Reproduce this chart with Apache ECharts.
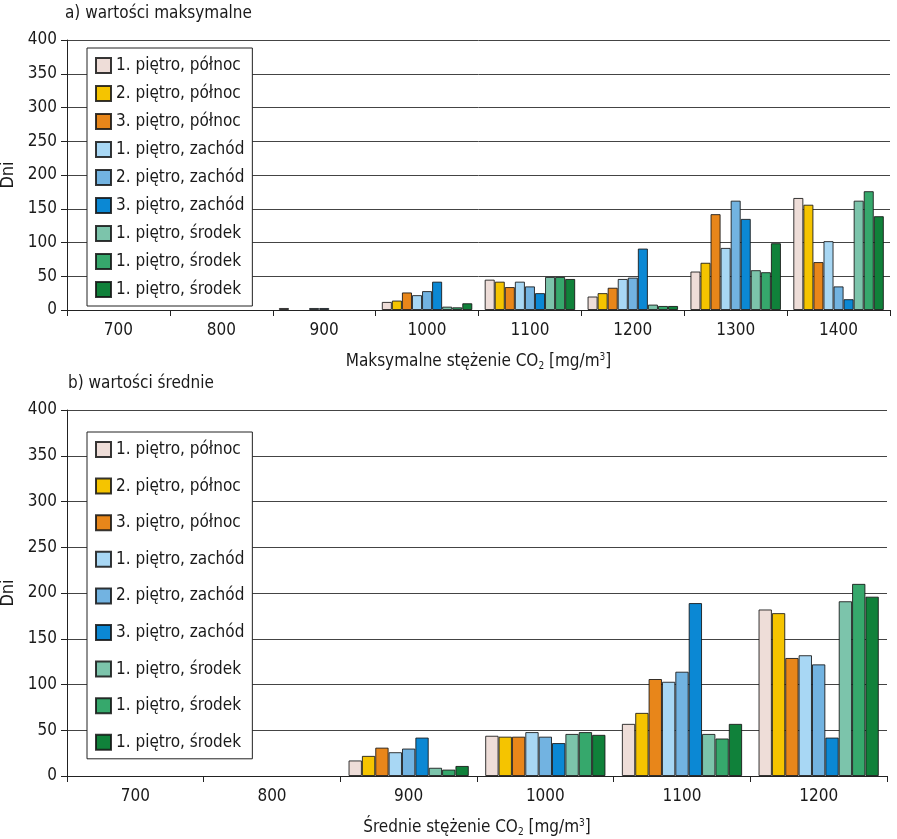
<!DOCTYPE html>
<html>
<head>
<meta charset="utf-8">
<script src="https://cdn.jsdelivr.net/npm/echarts@6/dist/echarts.min.js"></script>
<style>
  html, body { margin: 0; padding: 0; background: #fff; }
  #chart { width: 897px; height: 839px; }
</style>
</head>
<body>
<div id="chart"></div>
<script>
// kategorie osi X
var catsMax = ['700', '800', '900', '1000', '1100', '1200', '1300', '1400'];
var catsAvg = ['700', '800', '900', '1000', '1100', '1200'];

var seriesKeys = ['s1', 's2', 's3', 's4', 's5', 's6', 's7', 's8', 's9'];
var seriesLabels = [
  '1. piętro, północ', '2. piętro, północ', '3. piętro, północ',
  '1. piętro, zachód', '2. piętro, zachód', '3. piętro, zachód',
  '1. piętro, środek', '1. piętro, środek', '1. piętro, środek'
];
var seriesColors = ['#eeddd8', '#f5c400', '#e8861a', '#a8d7f4', '#72b3e1', '#0b88d4', '#7cc4ab', '#36a86c', '#10813a'];

// a) wartości maksymalne
var max1 = [null, null, 3, 12, 45, 20, 57, 166];
var max2 = [null, null, null, 14, 42, 25, 70, 156];
var max3 = [null, null, null, 26, 34, 33, 142, 71];
var max4 = [null, null, 3, 22, 42, 46, 92, 102];
var max5 = [null, null, 3, 28, 35, 48, 162, 35];
var max6 = [null, null, null, 42, 25, 91, 135, 16];
var max7 = [null, null, null, 5, 49, 8, 59, 162];
var max8 = [null, null, null, 4, 49, 6, 56, 176];
var max9 = [null, null, null, 10, 46, 6, 99, 139];

// b) wartości średnie
var avg1 = [null, null, 17, 44, 57, 182];
var avg2 = [null, null, 22, 43, 69, 178];
var avg3 = [null, null, 31, 43, 106, 129];
var avg4 = [null, null, 26, 48, 103, 132];
var avg5 = [null, null, 30, 43, 114, 122];
var avg6 = [null, null, 42, 36, 189, 42];
var avg7 = [null, null, 9, 46, 46, 191];
var avg8 = [null, null, 7, 48, 41, 210];
var avg9 = [null, null, 11, 45, 57, 196];

var yTicks = [0, 400, 50];

var maxData = [max1, max2, max3, max4, max5, max6, max7, max8, max9];
var avgData = [avg1, avg2, avg3, avg4, avg5, avg6, avg7, avg8, avg9];

var FONT = '"Liberation Sans Narrow", "DejaVu Sans Condensed", "Arial Narrow", sans-serif';
var TXT = '#1a1a1a';

var myChart = echarts.init(document.getElementById('chart'));

function makeSeries(data, idx) {
  return data.map(function (vals, i) {
    return {
      name: seriesKeys[i],
      type: 'bar',
      xAxisIndex: idx,
      yAxisIndex: idx,
      data: vals,
      barGap: '0%',
      barCategoryGap: '12%',
      itemStyle: {
        color: seriesColors[i],
        borderColor: 'rgba(20,20,20,0.85)',
        borderWidth: 1
      },
      emphasis: { disabled: true }
    };
  });
}

function makeLegend(top, gap) {
  return {
    orient: 'vertical',
    left: 87,
    top: top,
    data: seriesKeys,
    icon: 'rect',
    itemWidth: 15,
    itemHeight: 15,
    itemGap: gap,
    padding: [9, 8, 8, 8],
    backgroundColor: '#fff',
    borderColor: '#222',
    borderWidth: 1,
    z: 10,
    selectedMode: false,
    textStyle: { fontSize: 17, color: TXT, fontFamily: FONT },
    formatter: function (name) {
      return seriesLabels[seriesKeys.indexOf(name)];
    }
  };
}

function makeX(cats, idx, name) {
  return {
    type: 'category',
    gridIndex: idx,
    data: cats,
    axisLine: { lineStyle: { color: '#222', width: 1 } },
    axisTick: { show: true, length: 6, lineStyle: { color: '#222' } },
    axisLabel: { fontSize: 17, color: TXT, fontFamily: FONT, margin: 12 },
    name: name,
    nameLocation: 'middle',
    nameGap: 42,
    nameTextStyle: {
      fontSize: 17, color: TXT, fontFamily: FONT,
      rich: {
        n: { fontSize: 17, color: TXT, fontFamily: FONT },
        sub: { fontSize: 10, color: TXT, fontFamily: FONT, padding: [9, 0, 0, 0] },
        sup: { fontSize: 10, color: TXT, fontFamily: FONT, padding: [0, 0, 9, 0] }
      }
    }
  };
}

function makeY(idx) {
  return {
    type: 'value',
    gridIndex: idx,
    min: yTicks[0],
    max: yTicks[1],
    interval: yTicks[2],
    name: 'Dni',
    nameLocation: 'middle',
    nameGap: 48,
    nameRotate: 90,
    nameTextStyle: { fontSize: 18, color: TXT, fontFamily: FONT },
    axisLine: { show: true, lineStyle: { color: '#222' } },
    axisTick: { show: true, length: 6, lineStyle: { color: '#222' } },
    axisLabel: { fontSize: 17, color: TXT, fontFamily: FONT, margin: 10 },
    splitLine: { lineStyle: { color: '#444', width: 1 } }
  };
}

var option = {
  backgroundColor: '#fff',
  animation: false,
  textStyle: { fontFamily: FONT },
  title: [
    { text: 'a) wartości maksymalne', left: 60, top: 0,
      textStyle: { fontSize: 17, fontWeight: 'normal', color: TXT, fontFamily: FONT } },
    { text: 'b) wartości średnie', left: 63, top: 370,
      textStyle: { fontSize: 17, fontWeight: 'normal', color: TXT, fontFamily: FONT } }
  ],
  legend: [makeLegend(48, 11), makeLegend(432, 19.6)],
  grid: [
    { left: 67, right: 7, top: 40, height: 270, outerBoundsMode: 'none' },
    { left: 67, right: 10, top: 410, height: 366, outerBoundsMode: 'none' }
  ],
  xAxis: [
    makeX(catsMax, 0, '{n|Maksymalne stężenie CO}{sub|2}{n| [mg/m}{sup|3}{n|]}'),
    makeX(catsAvg, 1, '{n|Średnie stężenie CO}{sub|2}{n| [mg/m}{sup|3}{n|]}')
  ],
  yAxis: [makeY(0), makeY(1)],
  series: makeSeries(maxData, 0).concat(makeSeries(avgData, 1))
};

myChart.setOption(option);
</script>
</body>
</html>
